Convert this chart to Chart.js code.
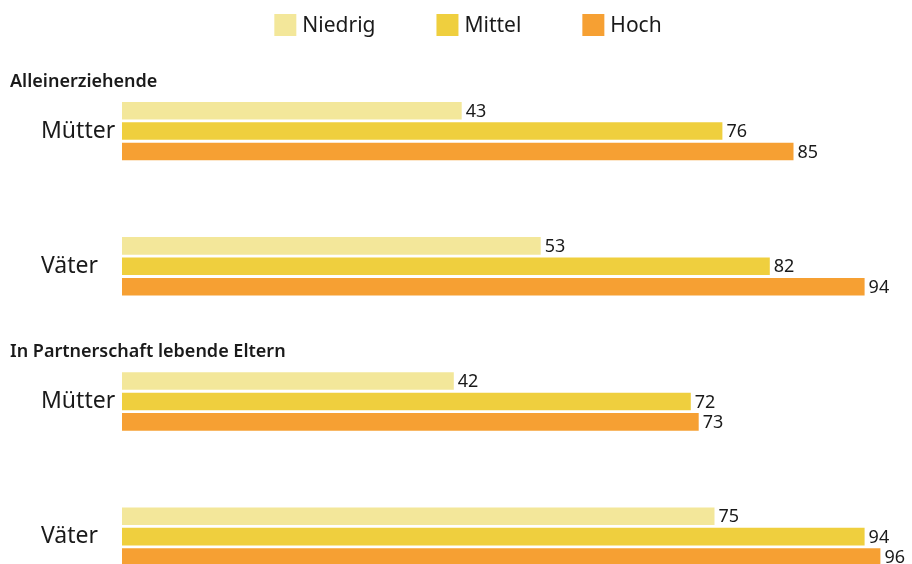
<!DOCTYPE html>
<html>
<head>
<meta charset="utf-8">
<script src="https://cdn.jsdelivr.net/npm/chart.js@4"></script>
<style>
  body { margin: 0; overflow: hidden; background: #fff; }
  #wrap { width: 912px; height: 618px; }
</style>
</head>
<body>
<div id="wrap"><canvas id="bar-chart"></canvas></div>
<script>
const categories = ["Mütter", "Väter", "Mütter", "Väter"];
const groupTitles = ["Alleinerziehende", "In Partnerschaft lebende Eltern"];
const groupStarts = [0, 2];
const seriesNames = ["Niedrig", "Mittel", "Hoch"];
const niedrig = [43, 53, 42, 75];
const mittel = [76, 82, 72, 94];
const hoch = [85, 94, 73, 96];
const colors = ["#f3e79a", "#efcf3e", "#f6a033"]; // light yellow, yellow, orange

const font = "'Noto Sans', sans-serif";
const textColor = "#1a1a1a";

// numbers at the end of each bar
const valueLabels = {
  id: 'valueLabels',
  afterDatasetsDraw(chart) {
    const ctx = chart.ctx;
    ctx.save();
    ctx.font = "18px " + font;
    ctx.fillStyle = textColor;
    ctx.textAlign = 'left';
    ctx.textBaseline = 'middle';
    chart.data.datasets.forEach((ds, i) => {
      chart.getDatasetMeta(i).data.forEach((bar, j) => {
        ctx.fillText(ds.data[j], bar.x + 4, bar.y + 1);
      });
    });
    ctx.restore();
  }
};

// bold group headings above Mütter/Väter
const groupHeadings = {
  id: 'groupHeadings',
  afterDraw(chart) {
    const ctx = chart.ctx;
    const y = chart.scales.y;
    ctx.save();
    ctx.font = "600 18px " + font;
    ctx.fillStyle = textColor;
    ctx.textAlign = 'left';
    ctx.textBaseline = 'alphabetic';
    groupTitles.forEach((t, i) => {
      ctx.fillText(t, 10, y.getPixelForValue(groupStarts[i]) - 44);
    });
    ctx.restore();
  }
};

// legend row with wide gaps between items
const topLegend = {
  id: 'topLegend',
  afterDraw(chart) {
    const ctx = chart.ctx;
    ctx.save();
    ctx.font = "21px " + font;
    ctx.textBaseline = 'middle';
    const box = 22, gap = 61;
    const items = chart.data.datasets.map(ds => ({
      text: ds.label,
      color: ds.backgroundColor,
      w: box + 6 + ctx.measureText(ds.label).width
    }));
    const total = items.reduce((s, it) => s + it.w, 0) + gap * (items.length - 1);
    let x = (chart.width - total) / 2 + 12;
    items.forEach(it => {
      ctx.fillStyle = it.color;
      ctx.fillRect(x, 14, box, box);
      ctx.fillStyle = textColor;
      ctx.fillText(it.text, x + box + 6, 26);
      x += it.w + gap;
    });
    ctx.restore();
  }
};

new Chart(document.getElementById("bar-chart"), {
  type: 'bar',
  data: {
    labels: categories,
    datasets: [
      { label: seriesNames[0], data: niedrig, backgroundColor: colors[0] },
      { label: seriesNames[1], data: mittel, backgroundColor: colors[1] },
      { label: seriesNames[2], data: hoch, backgroundColor: colors[2] }
    ]
  },
  options: {
    indexAxis: 'y',
    responsive: true,
    maintainAspectRatio: false,
    animation: false,
    layout: { padding: { top: 63.5, left: 41, right: 0, bottom: 0 } },
    datasets: {
      bar: { categoryPercentage: 0.453, barPercentage: 0.86 }
    },
    scales: {
      x: { display: false, min: 0, max: 100 },
      y: {
        grid: { display: false, drawTicks: false },
        border: { display: false },
        ticks: {
          crossAlign: 'far',
          padding: 0,
          color: textColor,
          font: { family: font, size: 23 }
        },
        afterFit(scale) { scale.width = 81; }
      }
    },
    plugins: {
      legend: { display: false },
      tooltip: { enabled: false }
    }
  },
  plugins: [valueLabels, groupHeadings, topLegend]
});
</script>
</body>
</html>
